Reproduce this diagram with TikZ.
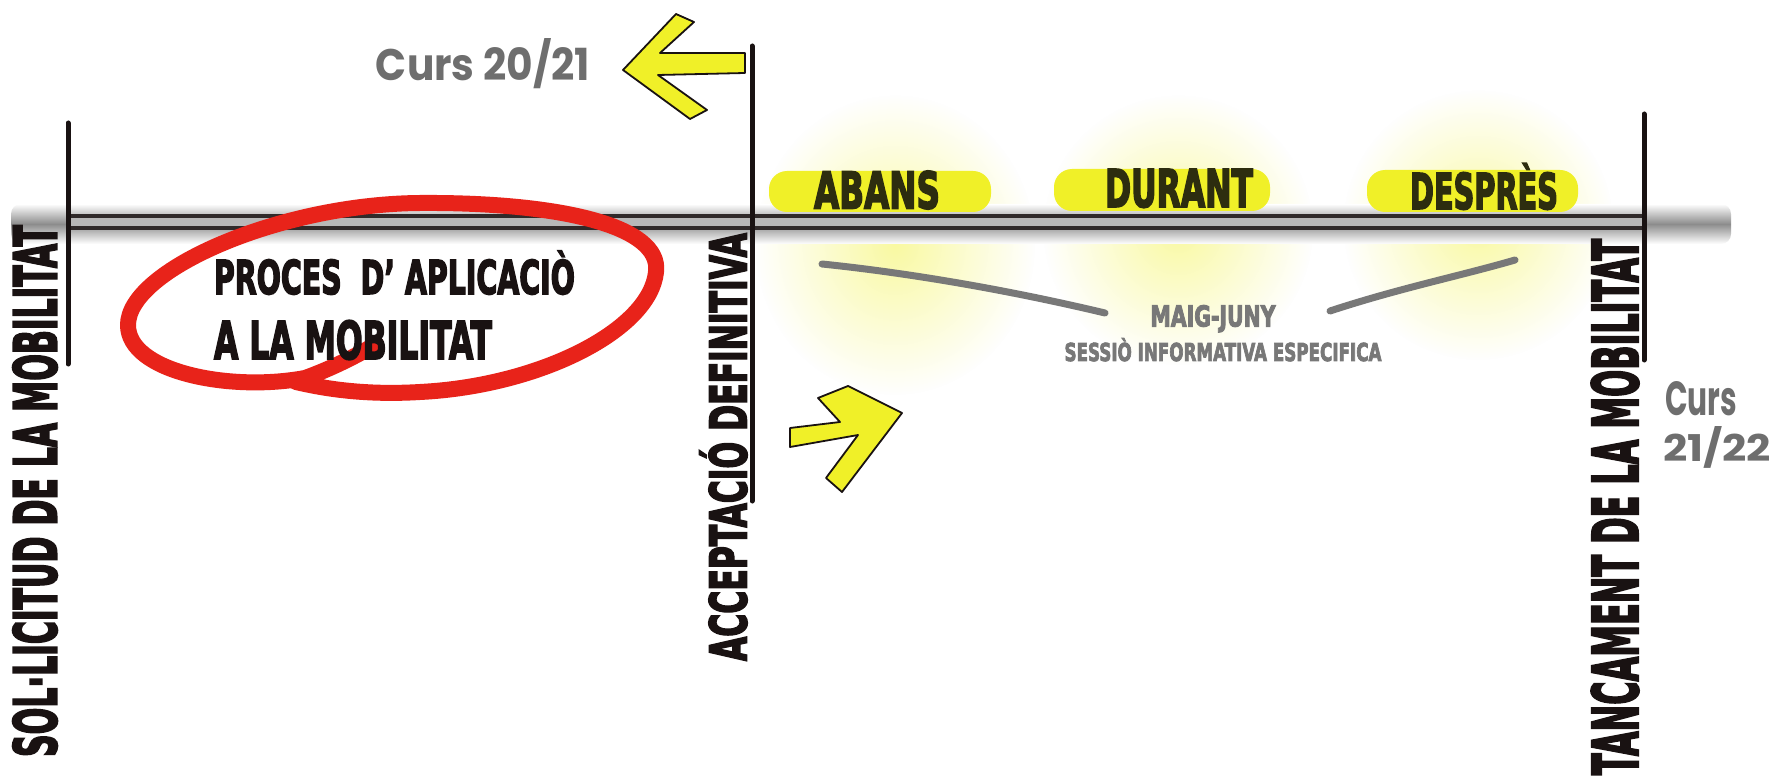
\documentclass[tikz,border=0pt]{standalone}
\usepackage{fontspec}
\usetikzlibrary{fadings}
\newfontfamily\hand[FakeBold=3.5]{DejaVu Sans Condensed Bold}
\newfontfamily\rnd{Poppins}
\newdimen\pxu \pxu=0.5pt
\newcommand\fitpx[3]{\resizebox{#1\pxu}{#2\pxu}{#3}}
\newcommand\capbox[1]{\raisebox{0pt}[\fontcharht\font`X][0pt]{#1}}
\definecolor{hl}{RGB}{240,240,40}
\definecolor{glowc}{RGB}{245,245,100}
\definecolor{ink}{RGB}{25,18,18}
\definecolor{olive}{RGB}{45,45,15}
\definecolor{cgray}{RGB}{110,110,110}
\definecolor{strokec}{RGB}{120,120,120}
\definecolor{redm}{RGB}{232,35,26}
\tikzfading[name=glowfade, inner color=transparent!40, outer color=transparent!100]
\begin{document}
\begin{tikzpicture}[x=0.5pt,y=-0.5pt,
  lab/.style={inner sep=0pt, outer sep=0pt},
  vlab/.style={lab, rotate=90, text=ink},
  stage/.style={lab, text=olive},
  curs/.style={lab, text=cgray},
  glow/.style={glowc, path fading=glowfade},
  hlstrip/.style={hl, rounded corners=9pt},
  tick/.style={ink, line width=2.5pt, line cap=round},
  yarrow/.style={fill=hl, draw=ink, line width=0.9pt, line join=round},
  brush/.style={strokec, line width=3.5pt, line cap=round},
  ring/.style={redm, line width=8pt, line cap=round, line join=round}]
\useasboundingbox (0,0) rectangle (1786,780);
\fill[white] (0,0) rectangle (1786,780);

% soft yellow glows
\fill[glow] (895,245) ellipse (140 and 150);
\fill[glow] (1178,230) ellipse (135 and 135);
\fill[glow] (1478,225) ellipse (135 and 135);

% time line band
\shade[top color=white, bottom color=white, middle color=black!45, rounded corners=5pt] (11,204) rectangle (1731,244);
\fill[black!28] (68,216) rectangle (1644,228);

% highlight strips
\fill[hlstrip] (769,171) rectangle (991,212);
\fill[hlstrip] (1054,169) rectangle (1270,211);
\fill[hlstrip] (1367,170) rectangle (1578,212);

\draw[ink!90, line width=1.6pt] (66,216) -- (1646,216);
\draw[ink!90, line width=1.6pt] (66,228) -- (1646,228);

% milestones
\draw[tick] (68,123) -- (68,364);
\draw[tick] (752,46) -- (752,501);
\draw[tick] (1644,114) -- (1644,360);

\node[vlab] (sol) at (35,491) {\fitpx{532}{43}{\hand\capbox{SOL·LICITUD DE LA MOBILITAT}}};
\node[vlab] (acc) at (728,447) {\fitpx{428}{37}{\hand\capbox{ACCEPTACIÓ DEFINITIVA}}};
\node[vlab] (tan) at (1615,507) {\fitpx{536}{46}{\hand\capbox{TANCAMENT DE LA MOBILITAT}}};

% stages
\node[stage] (abans) at (877,190) {\fitpx{126}{37}{\hand\capbox{ABANS}}};
\node[stage] (durant) at (1179,188) {\fitpx{148}{38}{\hand\capbox{DURANT}}};
\node[stage] (despres) at (1484,191) {\fitpx{148}{36}{\hand\capbox{DESPRÈS}}};

% session
\node[lab, text=strokec] (maig) at (1213,316) {\fitpx{125}{21}{\hand\capbox{MAIG-JUNY}}};
\node[lab, text=strokec] (sessio) at (1223,352) {\fitpx{317}{18}{\hand\capbox{SESSIÒ INFORMATIVA ESPECIFICA}}};
\coordinate (b1) at (822,264);
\coordinate (b2) at (1105,313);
\coordinate (b3) at (1330,311);
\coordinate (b4) at (1515,260);
\draw[brush] (b1) .. controls (900,272) and (1000,288) .. (b2);
\draw[brush] (b3) .. controls (1400,288) and (1460,276) .. (b4);

% courses
\node[curs] (c1) at (483,64) {\fitpx{214}{42}{\rnd\bfseries Curs 20/21}};
\node[curs] (c2a) at (1701,399) {\fitpx{72}{34}{\rnd\bfseries Curs}};
\node[curs] (c2b) at (1717,447) {\fitpx{108}{35}{\rnd\bfseries 21/22}};

% yellow arrows
\draw[yarrow] (623,70) -- (676,14) -- (694,22) -- (660,53) -- (745,53) -- (745,73)
  -- (658,75) -- (707,110) -- (690,119) -- cycle;
\draw[yarrow] (902,413) -- (848,386) -- (818,398) -- (840,422) -- (790,428) -- (790,447)
  -- (858,435) -- (826,478) -- (842,492) -- cycle;

% red loop
\draw[ring] (376,344) .. controls (350,360) and (322,372) .. (305,378)
  .. controls (230,392) and (128,372) .. (128,325)
  .. controls (128,270) and (280,204) .. (420,203)
  .. controls (560,202) and (662,226) .. (656,272)
  .. controls (650,330) and (540,386) .. (420,392)
  .. controls (370,395) and (330,390) .. (296,382);

\node[lab, anchor=west, text=ink] (p1) at (214,277) {\fitpx{361}{34}{\hand\capbox{PROCES\hspace{0.6em}D’ APLICACIÒ}}};
\node[lab, anchor=west, text=ink] (p2) at (214,340) {\fitpx{278}{38}{\hand\capbox{A LA MOBILITAT}}};
\end{tikzpicture}
\end{document}
